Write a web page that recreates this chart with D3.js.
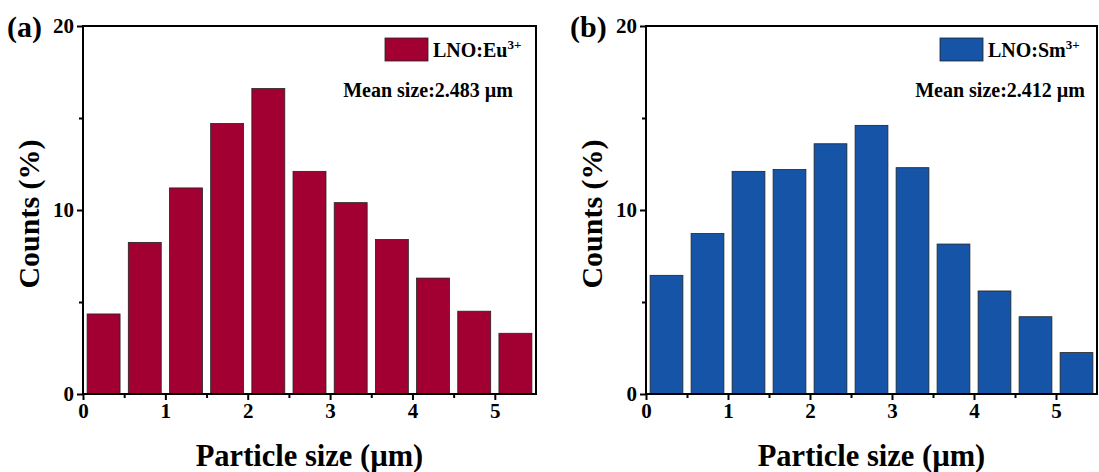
<!DOCTYPE html>
<html>
<head>
<meta charset="utf-8">
<script src="https://cdn.jsdelivr.net/npm/d3@7"></script>
<style>
  body { margin: 0; background: #fff; }
  svg { display: block; font-family: "Liberation Serif", "Times New Roman", serif; font-weight: bold; }
</style>
</head>
<body>
<svg id="chart" width="1099" height="472"></svg>
<script>
// bin centres (µm)
const binCenters = [0.25, 0.75, 1.25, 1.75, 2.25, 2.75, 3.25, 3.75, 4.25, 4.75, 5.25];
// counts (%) per bin
const euCounts = [4.35, 8.24, 11.2, 14.7, 16.6, 12.1, 10.4, 8.4, 6.3, 4.5, 3.3];
const smCounts = [6.45, 8.72, 12.1, 12.2, 13.6, 14.6, 12.3, 8.15, 5.6, 4.2, 2.25];
const xTicks = [0, 1, 2, 3, 4, 5];
const yTicks = [0, 10, 20];

const panels = [
  { tag: '(a)', ion: 'Eu', mean: 'Mean size:2.483 µm', values: euCounts, color: '#A20033',
    left: 83, right: 536, legendX: 385, meanEnd: 513 },
  { tag: '(b)', ion: 'Sm', mean: 'Mean size:2.412 µm', values: smCounts, color: '#1554A7',
    left: 646, right: 1097, legendX: 940, meanEnd: 1085 }
];

const svg = d3.select('#chart');
const plotTop = 26, plotBottom = 394;

// d3 axes put sans-serif on the group, take it off so the serif shows
function styleAxis(s) {
  s.attr('font-family', null).attr('font-size', null);
  s.select('.domain').remove();
  s.selectAll('line').attr('stroke-width', 2).attr('stroke', '#000');
  s.selectAll('text').attr('font-size', 21).attr('fill', '#000');
}

panels.forEach(p => {
  const x = d3.scaleLinear().domain([0, 5.5]).range([p.left, p.right]);
  const y = d3.scaleLinear().domain([0, 20]).range([plotBottom, plotTop]);
  const g = svg.append('g');

  // bars
  g.selectAll('rect.bar')
    .data(binCenters.map((c, i) => ({ c, v: p.values[i] })))
    .join('rect')
    .attr('class', 'bar')
    .attr('x', d => x(d.c - 0.2))
    .attr('width', d => x(d.c + 0.2) - x(d.c - 0.2))
    .attr('y', d => y(d.v))
    .attr('height', d => y(0) - y(d.v))
    .attr('fill', p.color)
    .attr('stroke', '#222')
    .attr('stroke-width', 0.8);

  // minor ticks
  g.append('g').attr('transform', `translate(0,${plotBottom})`)
    .call(d3.axisBottom(x).tickValues(d3.range(0.5, 5.5, 1)).tickSize(4).tickFormat(''))
    .call(styleAxis);
  g.append('g').attr('transform', `translate(${p.left},0)`)
    .call(d3.axisLeft(y).tickValues([5, 15]).tickSize(4).tickFormat(''))
    .call(styleAxis);

  // major ticks
  g.append('g').attr('transform', `translate(0,${plotBottom})`)
    .call(d3.axisBottom(x).tickValues(xTicks).tickSize(6).tickPadding(3).tickFormat(d3.format('d')))
    .call(styleAxis);
  g.append('g').attr('transform', `translate(${p.left},0)`)
    .call(d3.axisLeft(y).tickValues(yTicks).tickSize(6).tickPadding(3).tickFormat(d3.format('d')))
    .call(styleAxis);

  // frame
  g.append('rect')
    .attr('x', p.left).attr('y', plotTop)
    .attr('width', p.right - p.left).attr('height', plotBottom - plotTop)
    .attr('fill', 'none').attr('stroke', '#000').attr('stroke-width', 2);

  // panel tag
  g.append('text').attr('x', p.left - 76).attr('y', plotTop + 11)
    .attr('font-size', 30).text(p.tag);

  // axis titles
  g.append('text')
    .attr('transform', `translate(${p.left - 44},${(plotTop + plotBottom) / 2 + 4}) rotate(-90)`)
    .attr('text-anchor', 'middle').attr('font-size', 30).text('Counts (%)');
  g.append('text')
    .attr('x', (p.left + p.right) / 2).attr('y', 466)
    .attr('text-anchor', 'middle').attr('font-size', 30.5).text('Particle size (µm)');

  // legend
  g.append('rect').attr('x', p.legendX).attr('y', 38).attr('width', 43).attr('height', 23)
    .attr('fill', p.color).attr('stroke', '#222').attr('stroke-width', 0.8);
  const lt = g.append('text').attr('x', p.legendX + 48).attr('y', 57).attr('font-size', 20);
  lt.append('tspan').text('LNO:' + p.ion);
  lt.append('tspan').attr('dy', -8).attr('font-size', 13).text('3+');
  g.append('text').attr('x', p.meanEnd).attr('y', 97).attr('text-anchor', 'end')
    .attr('font-size', 20).text(p.mean);
});
</script>
</body>
</html>
